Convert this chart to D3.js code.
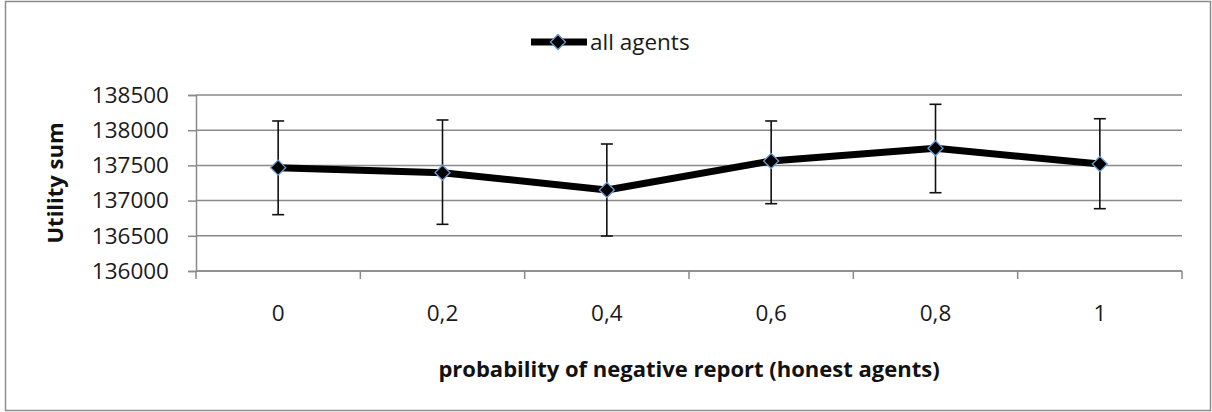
<!DOCTYPE html>
<html>
<head>
<meta charset="utf-8">
<script src="https://cdn.jsdelivr.net/npm/d3@7"></script>
<style>
  body { margin: 0; background: #fff; }
  svg { display: block; font-family: "Open Sans", "Noto Sans", sans-serif; }
</style>
</head>
<body>
<svg id="chart" width="1212" height="412"></svg>
<script>
// values
const categories = ['0', '0,2', '0,4', '0,6', '0,8', '1'];
const utilitySum = [137468, 137396, 137151, 137562, 137743, 137520];
const errTop = [138131, 138145, 137804, 138131, 138368, 138163];
const errBottom = [136800, 136663, 136497, 136956, 137112, 136885];
const yTicks = [136000, 136500, 137000, 137500, 138000, 138500];
const seriesName = 'all agents';

const svg = d3.select('#chart');
const margin = { top: 95, right: 30, bottom: 141, left: 196 };
const width = 1212;
const height = 412;

// outer frame
svg.append('rect')
  .attr('x', 5.5).attr('y', 1.5)
  .attr('width', 1205).attr('height', 409)
  .attr('fill', 'none')
  .attr('stroke', '#8c8c8c')
  .attr('stroke-width', 1.5);

const x = d3.scaleBand()
  .domain(categories)
  .range([margin.left, width - margin.right]);

const y = d3.scaleLinear()
  .domain([136000, 138500])
  .range([height - margin.bottom, margin.top]);

const grey = '#8a8a8a';

// gridlines
svg.append('g')
  .selectAll('line')
  .data(yTicks)
  .join('line')
  .attr('x1', margin.left).attr('x2', width - margin.right)
  .attr('y1', d => y(d)).attr('y2', d => y(d))
  .attr('stroke', grey)
  .attr('stroke-width', 1.5);

// y axis
const yAxis = svg.append('g')
  .attr('transform', 'translate(' + margin.left + ',0)')
  .call(d3.axisLeft(y).tickValues(yTicks).tickFormat(d3.format('d')).tickSizeOuter(0).tickSize(8).tickPadding(19));
yAxis.select('.domain').attr('stroke', grey).attr('stroke-width', 1.5);
yAxis.selectAll('.tick line').attr('stroke', grey).attr('stroke-width', 1.5);
yAxis.selectAll('text').attr('font-size', 22.5).attr('fill', '#1a1a1a').attr('font-family', 'Open Sans');

// x axis: ticks on band boundaries, labels in band centres
const xAxisY = y(136000);
const xg = svg.append('g');
xg.append('line')
  .attr('x1', margin.left).attr('x2', width - margin.right)
  .attr('y1', xAxisY).attr('y2', xAxisY)
  .attr('stroke', grey).attr('stroke-width', 1.5);
const bounds = categories.map(c => x(c)).concat([x(categories[categories.length - 1]) + x.bandwidth()]);
xg.selectAll('line.tk')
  .data(bounds)
  .join('line')
  .attr('class', 'tk')
  .attr('x1', d => d).attr('x2', d => d)
  .attr('y1', xAxisY).attr('y2', xAxisY + 8)
  .attr('stroke', grey).attr('stroke-width', 1.5);
xg.selectAll('text')
  .data(categories)
  .join('text')
  .attr('x', d => x(d) + x.bandwidth() / 2)
  .attr('y', 313)
  .attr('dy', '0.35em')
  .attr('text-anchor', 'middle')
  .attr('font-size', 22.5)
  .attr('fill', '#1a1a1a')
  .text(d => d);

// axis titles
svg.append('text')
  .attr('transform', 'translate(55,' + ((y(136000) + y(138500)) / 2) + ') rotate(-90)')
  .attr('text-anchor', 'middle')
  .attr('dy', '0.35em')
  .attr('font-size', 22)
  .attr('font-weight', 'bold')
  .attr('fill', '#111')
  .text('Utility sum');

svg.append('text')
  .attr('x', (margin.left + width - margin.right) / 2)
  .attr('y', 369)
  .attr('dy', '0.35em')
  .attr('text-anchor', 'middle')
  .attr('font-size', 22)
  .attr('font-weight', 'bold')
  .attr('fill', '#111')
  .text('probability of negative report (honest agents)');

const cx = i => x(categories[i]) + x.bandwidth() / 2;

// error bars
const eb = svg.append('g').attr('stroke', '#111').attr('stroke-width', 1.6);
eb.selectAll('line.v')
  .data(categories)
  .join('line')
  .attr('class', 'v')
  .attr('x1', (d, i) => cx(i)).attr('x2', (d, i) => cx(i))
  .attr('y1', (d, i) => y(errTop[i])).attr('y2', (d, i) => y(errBottom[i]));
eb.selectAll('line.t')
  .data(categories)
  .join('line')
  .attr('class', 't')
  .attr('x1', (d, i) => cx(i) - 6).attr('x2', (d, i) => cx(i) + 6)
  .attr('y1', (d, i) => y(errTop[i])).attr('y2', (d, i) => y(errTop[i]));
eb.selectAll('line.b')
  .data(categories)
  .join('line')
  .attr('class', 'b')
  .attr('x1', (d, i) => cx(i) - 6).attr('x2', (d, i) => cx(i) + 6)
  .attr('y1', (d, i) => y(errBottom[i])).attr('y2', (d, i) => y(errBottom[i]));

// series line
svg.append('path')
  .datum(utilitySum)
  .attr('fill', 'none')
  .attr('stroke', '#000')
  .attr('stroke-width', 7)
  .attr('stroke-linejoin', 'round')
  .attr('d', d3.line().x((d, i) => cx(i)).y(d => y(d)));

// markers
const diamond = d3.symbol().type(d3.symbolDiamond2).size(145);
svg.append('g')
  .selectAll('path')
  .data(utilitySum)
  .join('path')
  .attr('transform', (d, i) => 'translate(' + cx(i) + ',' + y(d) + ')')
  .attr('d', diamond)
  .attr('fill', '#000')
  .attr('stroke', '#6a9ad0')
  .attr('stroke-width', 1.3);

// legend
const lg = svg.append('g').attr('transform', 'translate(531,42)');
lg.append('line')
  .attr('x1', 0).attr('x2', 56)
  .attr('stroke', '#000').attr('stroke-width', 7);
lg.append('path')
  .attr('transform', 'translate(27,0)')
  .attr('d', diamond)
  .attr('fill', '#000')
  .attr('stroke', '#6a9ad0')
  .attr('stroke-width', 1.3);
lg.append('text')
  .attr('x', 59)
  .attr('dy', '0.35em')
  .attr('font-size', 22.5)
  .attr('fill', '#1a1a1a')
  .text(seriesName);
</script>
</body>
</html>
